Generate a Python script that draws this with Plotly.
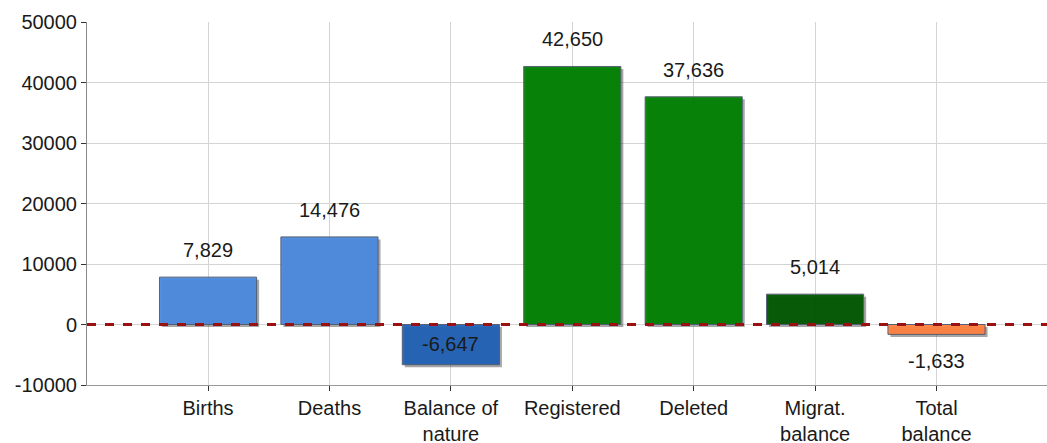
import plotly.graph_objects as go

categories = ["Births", "Deaths", "Balance of<br>nature", "Registered", "Deleted", "Migrat.<br>balance", "Total<br>balance"]
values = [7829, 14476, -6647, 42650, 37636, 5014, -1633]
labels = ["7,829", "14,476", "-6,647", "42,650", "37,636", "5,014", "-1,633"]
colors = ["#4a89dc", "#4a89dc", "#2160b4", "#008000", "#008000", "#005500", "#ff7f3f"]
y_ticks = [-10000, 0, 10000, 20000, 30000, 40000, 50000]

W, H = 1047, 443
ml, mr, mt, mb = 87, 0, 22, 58
xr = [-0.997, 6.91]
yr = [-10000, 50000]
px_x = (W - ml - mr) / (xr[1] - xr[0])
px_y = (H - mt - mb) / (yr[1] - yr[0])

xs = list(range(len(categories)))
bw = 0.8
sh = 2.5  # shadow offset in px

fig = go.Figure()
# shadow
fig.add_trace(go.Bar(
    x=xs, y=values, base=[-sh / px_y] * len(values),
    width=bw, offset=-bw / 2 + sh / px_x,
    marker=dict(color="rgba(60,60,60,0.45)", line=dict(width=0)),
    hoverinfo="skip", showlegend=False,
))
fig.add_trace(go.Bar(
    x=xs, y=values, width=bw, offset=-bw / 2,
    marker=dict(color=colors, opacity=0.95, line=dict(color="#4f5b70", width=1)),
    showlegend=False,
))

for i, (v, t) in enumerate(zip(values, labels)):
    if v >= 0:
        fig.add_annotation(x=i, y=v, text=t, showarrow=False, yanchor="middle", yshift=27)
    elif abs(v) > 5000:
        fig.add_annotation(x=i, y=v, text=t, showarrow=False, yanchor="middle", yshift=20.5)
    else:
        fig.add_annotation(x=i, y=v, text=t, showarrow=False, yanchor="middle", yshift=-27)

fig.add_shape(type="line", xref="paper", x0=0, x1=1, yref="y", y0=0, y1=0,
              line=dict(color="#9b1010", width=3, dash="dash"), layer="above")

fig.update_layout(
    width=W, height=H,
    margin=dict(l=ml, r=mr, t=mt, b=mb, pad=0, autoexpand=False),
    paper_bgcolor="white", plot_bgcolor="white",
    barmode="overlay",
    font=dict(family="Liberation Sans, Arial, sans-serif", size=20, color="#1a1a1a"),
    xaxis=dict(
        range=xr, tickmode="array", tickvals=xs, ticktext=categories,
        showgrid=True, gridcolor="#d4d4d4", gridwidth=1,
        ticks="outside", ticklen=5, tickcolor="#333333",
        showline=True, linecolor="#999999", linewidth=1,
        zeroline=False, tickfont=dict(size=20, color="#1a1a1a"),
        automargin=False,
    ),
    yaxis=dict(
        range=yr, tickmode="array", tickvals=y_ticks,
        ticktext=[str(v) for v in y_ticks],
        showgrid=True, gridcolor="#d4d4d4", gridwidth=1,
        ticks="outside", ticklen=5, tickcolor="#333333",
        showline=True, linecolor="#888888", linewidth=1,
        zeroline=False, tickfont=dict(size=20, color="#1a1a1a"),
        automargin=False,
    ),
)

fig.write_html(
    "out.html",
    config={"displayModeBar": False},
    post_script="document.body.style.margin='0';document.body.style.overflow='hidden';",
)
